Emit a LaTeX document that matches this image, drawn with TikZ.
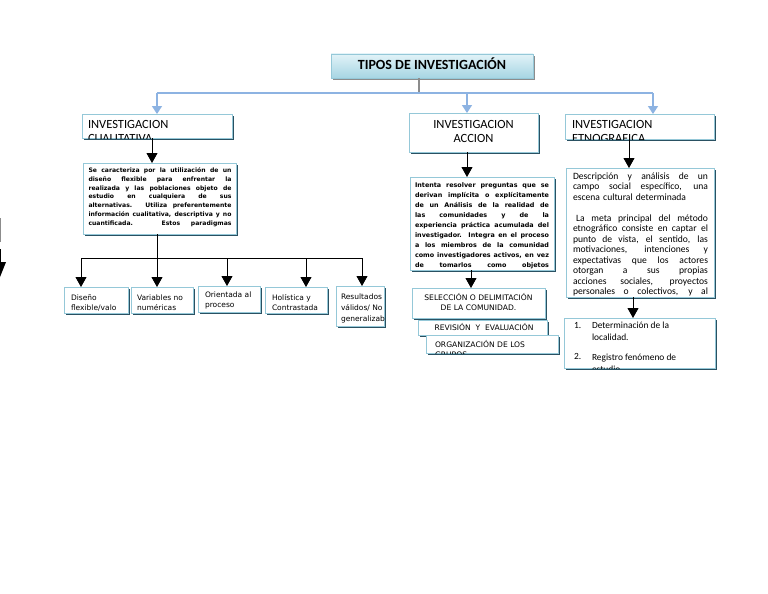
\documentclass[tikz,border=0pt]{standalone}
\usepackage{fontspec}
\setmainfont{Carlito}
\newfontfamily\vf{DejaVu Sans}
\usetikzlibrary{arrows.meta,shadows}
\definecolor{bordc}{HTML}{95C8D8}
\definecolor{shadc}{HTML}{2A5162}
\definecolor{bluec}{HTML}{8DB3E2}
\definecolor{titt}{HTML}{E2F3F8}
\definecolor{titb}{HTML}{A6D5E3}
\definecolor{grayc}{HTML}{8C8C8C}
\newcommand\jl[1]{{\spaceskip=0pt\xspaceskip=0pt\makebox[\linewidth][s]{#1}}\par}
\newcommand\mkbox[6][boxst]{\node[#1,minimum width={(#5-#3)*1pt},minimum height={(#6-#4)*1pt}] (#2) at ({(#3+#5)/2},{(#4+#6)/2}) {};}
\begin{document}
\begin{tikzpicture}[x=1pt,y=-1pt,
  boxst/.style={draw=bordc,line width=0.8pt,fill=white,inner sep=0pt,outer sep=0pt,
    drop shadow={opacity=1,fill=shadc,shadow xshift=1.6pt,shadow yshift=-1.6pt}},
  titst/.style={draw=bordc,line width=0.8pt,top color=titt,bottom color=titb,inner sep=0pt,outer sep=0pt,
    drop shadow={opacity=1,fill=grayc,shadow xshift=1.8pt,shadow yshift=-1.8pt}},
  txt/.style={inner sep=0pt,outer sep=0pt,anchor=base west,align=left},
  jtxt/.style={inner sep=0pt,outer sep=0pt,anchor=base west},
  ctxt/.style={inner sep=0pt,outer sep=0pt,anchor=base,align=center},
  hfont/.style={font=\fontsize{12.5}{14}\selectfont},
  sfont/.style={font=\vf\fontsize{7.5}{10}\selectfont},
  cfont/.style={font=\vf\fontsize{7.6}{10.5}\selectfont},
  lfont/.style={font=\fontsize{9.4}{12}\selectfont},
  bline/.style={draw=bluec,line width=1.4pt},
  barr/.style={draw=bluec,line width=1.4pt,-{Triangle[width=10pt,length=8pt]}},
  karr/.style={draw=black,line width=0.9pt,-{Triangle[width=11pt,length=10pt]}},
  kline/.style={draw=black,line width=0.9pt}]
\useasboundingbox (0,0) rectangle (768,594);
\fill[white] (0,0) rectangle (768,594);

% left edge fragment
\begin{scope}
\clip (0,0) rectangle (768,594);
\draw[grayc,line width=1.6pt] (0.5,218) -- (0.5,242);
\draw[black,line width=1pt] (0.3,249) -- (0.3,262);
\fill[black] (-6,262) -- (6,262) -- (0,277) -- cycle;
\end{scope}

% title
\mkbox[titst]{title}{331}{54}{533}{78}
\node[ctxt,font=\bfseries\fontsize{14}{15}\selectfont] (titlet) at (432,69.5) {TIPOS DE INVESTIGACIÓN};

% headers
\mkbox{h1}{82}{114}{232}{138}
\mkbox{h2}{409}{113}{538}{152}
\mkbox{h3}{565}{114}{714}{139}
\begin{scope}
\clip (h1.south west) rectangle (h1.north east);
\node[txt,hfont] (h1t) at (88,142.5) {INVESTIGACION\\CUALITATIVA};
\end{scope}
\node[ctxt,hfont] (h2t) at (473.5,142.5) {INVESTIGACION\\ACCION};
\begin{scope}
\clip (h3.south west) rectangle (h3.north east);
\node[txt,hfont] (h3t) at (572,142.5) {INVESTIGACION\\ETNOGRAFICA};
\end{scope}

% blue connectors
\coordinate (j) at (419,93);
\coordinate (jl) at (157,93);
\coordinate (jr) at (653,93);
\coordinate (jm) at (467,93);
\draw[grayc,line width=1.4pt] (title.south -| j) -- (j);
\draw[bline] (jl) -- (jr);
\draw[barr] (jl) -- (h1.north -| jl);
\draw[barr] (jm) -- (h2.north -| jm);
\draw[barr] (jr) -- (h3.north -| jr);

% description boxes
\mkbox{d1}{83}{163}{236}{234}
\mkbox{d2}{410}{177}{554}{270}
\mkbox{d3}{566}{168}{714}{297}

\begin{scope}
\clip (d1.south west) rectangle (d1.north east);
\node[jtxt,font=\vf\bfseries\fontsize{6.1}{8.8}\selectfont,text width=143pt] (d1t) at (88.5,172.5) {%
\jl{Se caracteriza por la utilización de un}%
\jl{diseño flexible para enfrentar la}%
\jl{realizada y las poblaciones objeto de}%
\jl{estudio en cualquiera de sus}%
\jl{alternativas. Utiliza preferentemente}%
\jl{información cualitativa, descriptiva y no}%
\jl{cuantificada. Estos paradigmas}};
\end{scope}

\begin{scope}
\clip (d2.south west) rectangle (d2.north east);
\node[jtxt,font=\vf\bfseries\fontsize{6.4}{10}\selectfont,text width=134pt] (d2t) at (415,187.5) {%
\jl{Intenta resolver preguntas que se}%
\jl{derivan implícita o explícitamente}%
\jl{de un Análisis de la realidad de}%
\jl{las comunidades y de la}%
\jl{experiencia práctica acumulada del}%
\jl{investigador. Integra en el proceso}%
\jl{a los miembros de la comunidad}%
\jl{como investigadores activos, en vez}%
\jl{de tomarlos como objetos}};
\end{scope}

\begin{scope}
\clip (d3.south west) rectangle (d3.north east);
\node[jtxt,font=\fontsize{9.6}{10.45}\selectfont,text width=135pt] (d3t) at (573,179.5) {%
\jl{Descripción y análisis de un}%
\jl{campo social específico, una}%
escena cultural determinada\par
\mbox{}\par
\jl{\hspace{3pt}La meta principal del método}%
\jl{etnográfico consiste en captar el}%
\jl{punto de vista, el sentido, las}%
\jl{motivaciones, intenciones y}%
\jl{expectativas que los actores}%
\jl{otorgan a sus propias}%
\jl{acciones sociales, proyectos}%
\jl{personales o colectivos, y al}};
\end{scope}

\draw[karr] (h1.south -| 152,0) -- (d1.north -| 152,0);
\draw[karr] (h2.south -| 467,0) -- (d2.north -| 467,0);
\draw[karr] (h3.south -| 629,0) -- (d3.north -| 629,0);

% small boxes under cualitativa
\mkbox{sa}{64}{287}{128}{313}
\mkbox{sb}{131}{287}{193}{313}
\mkbox{sc}{198}{286}{260}{312}
\mkbox{sd}{265}{287}{327}{313}
\mkbox{se}{336}{286}{384}{326}
\begin{scope}
\clip (sa.south west) rectangle (sa.north east);
\node[txt,sfont] (sat) at (71,310) {Diseño\\flexible/valo};
\end{scope}
\node[txt,sfont] (sbt) at (137,310) {Variables no\\numéricas};
\node[txt,sfont] (sct) at (205,307.5) {Orientada al\\proceso};
\node[txt,sfont] (sdt) at (272,310) {Holística y\\Contrastada};
\begin{scope}
\clip (se.south west) rectangle (se.north east);
\node[txt,font=\vf\fontsize{7.5}{11}\selectfont] (set) at (341,321.5) {Resultados\\válidos/ No\\generalizabl};
\end{scope}

\coordinate (k) at (157,258);
\coordinate (kl) at (81,258);
\coordinate (kr) at (362,258);
\coordinate (kc) at (227,258);
\coordinate (kd) at (306,258);
\draw[kline] (d1.south -| k) -- (k);
\draw[kline] (kl) -- (kr);
\draw[karr] (kl) -- (sa.north -| kl);
\draw[karr] (k) -- (sb.north -| k);
\draw[karr] (kc) -- (sc.north -| kc);
\draw[karr] (kd) -- (sd.north -| kd);
\draw[karr] (kr) -- (se.north -| kr);

% accion steps
\mkbox{rev}{418}{320}{547}{335}
\mkbox{org}{426}{335}{558}{353}
\mkbox{sel}{412}{288}{545}{318}
\node[ctxt,cfont] (selt) at (478.5,310.5) {SELECCIÓN O DELIMITACIÓN\\DE LA COMUNIDAD.};
\node[ctxt,cfont] (revt) at (484,330.5) {REVISIÓN\ \ Y\ \ EVALUACIÓN};
\begin{scope}
\clip (org.south west) rectangle (org.north east);
\node[txt,cfont] (orgt) at (435,357.5) {ORGANIZACIÓN DE LOS\\GRUPOS};
\end{scope}
\draw[karr] (d2.south -| 471,0) -- (sel.north -| 471,0);

% etnografica list
\mkbox{lst}{564}{318}{715}{368}
\begin{scope}
\clip (lst.south west) rectangle (lst.north east);
\node[txt,lfont] (l1n) at (574,328.5) {1.};
\node[txt,lfont] (l1t) at (592,340.5) {Determinación de la\\localidad.};
\node[txt,lfont] (l2n) at (574,359) {2.};
\node[txt,lfont] (l2t) at (592,372) {Registro fenómeno de\\estudio};
\end{scope}
\draw[karr] (d3.south -| 633,0) -- (lst.north -| 633,0);
\end{tikzpicture}
\end{document}
